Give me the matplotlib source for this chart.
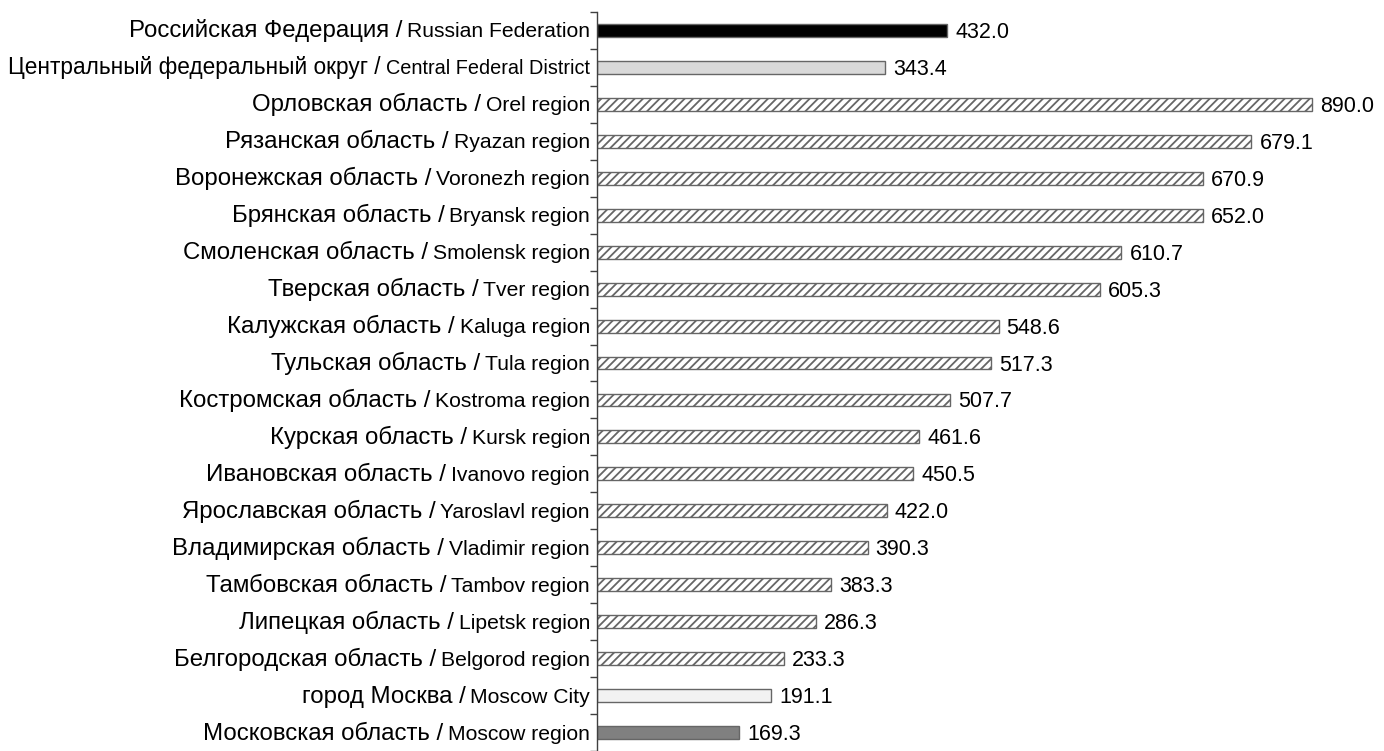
import matplotlib
matplotlib.use('Agg')
from matplotlib import pyplot as plt

names_ru = ['Российская Федерация', 'Центральный федеральный округ', 'Орловская область',
            'Рязанская область', 'Воронежская область', 'Брянская область',
            'Смоленская область', 'Тверская область', 'Калужская область',
            'Тульская область', 'Костромская область', 'Курская область',
            'Ивановская область', 'Ярославская область', 'Владимирская область',
            'Тамбовская область', 'Липецкая область', 'Белгородская область',
            'город Москва', 'Московская область']
names_en = ['Russian Federation', 'Central Federal District', 'Orel region',
            'Ryazan region', 'Voronezh region', 'Bryansk region',
            'Smolensk region', 'Tver region', 'Kaluga region',
            'Tula region', 'Kostroma region', 'Kursk region',
            'Ivanovo region', 'Yaroslavl region', 'Vladimir region',
            'Tambov region', 'Lipetsk region', 'Belgorod region',
            'Moscow City', 'Moscow region']
# printed values
values = [432.0, 343.4, 890.0, 679.1, 670.9, 652.0, 610.7, 605.3, 548.6, 517.3,
          507.7, 461.6, 450.5, 422.0, 390.3, 383.3, 286.3, 233.3, 191.1, 169.3]
# bar lengths as drawn in the source (they don't follow the printed values exactly)
bar_lengths = [436, 359, 890, 815, 754, 754, 653, 626, 500, 491,
               440, 401, 394, 361, 337, 292, 273, 233, 217, 177]

white_hatch = ('white', '////')
styles = [('black', ''), ('#d9d9d9', '')] + [white_hatch] * 16 + [('#f2f2f2', ''), ('#808080', '')]

plt.rcParams['font.family'] = ['Liberation Sans', 'DejaVu Sans']
plt.rcParams['hatch.color'] = '#222222'
plt.rcParams['hatch.linewidth'] = 1.3

fig = plt.figure(figsize=(13.84, 7.51), dpi=100)
ax = fig.add_axes([597 / 1384, 0, 787 / 1384, 739 / 751])

ypos = list(range(len(values)))
for y, length, (fc, hatch) in zip(ypos, bar_lengths, styles):
    ax.barh(y, length, height=0.35, color=fc, hatch=hatch,
            edgecolor='#666666', linewidth=1.0)

for y, length, v in zip(ypos, bar_lengths, values):
    ax.annotate(f'{v:.1f}', xy=(length, y), xytext=(8, -2), textcoords='offset pixels',
                ha='left', va='center', fontsize=15.5)

ax.set_xlim(0, 980)
ax.set_ylim(19.31, -0.5)
ax.set_xticks([])
ax.set_yticks(ypos)
ax.set_yticklabels([])
ax.tick_params(axis='y', which='major', length=0)
ax.set_yticks([i - 0.5 for i in range(len(values) + 1)], minor=True)
ax.tick_params(axis='y', which='minor', length=5, width=1, color='#404040', direction='out')
for side in ['top', 'right', 'bottom']:
    ax.spines[side].set_visible(False)
ax.spines['left'].set_color('#404040')
ax.spines['left'].set_linewidth(1)

# two-size category labels: english part smaller
fig.canvas.draw()
renderer = fig.canvas.get_renderer()
for y, ru, en in zip(ypos, names_ru, names_en):
    scale = 1.0
    while True:
        t = ax.annotate(en, xy=(0, y), xytext=(-7, -7), textcoords='offset pixels',
                        ha='right', va='baseline', fontsize=15.2 * scale)
        w = t.get_window_extent(renderer).width
        r = ax.annotate(ru + ' /', xy=(0, y), xytext=(-7 - w - 5, -7), textcoords='offset pixels',
                        ha='right', va='baseline', fontsize=17.3 * scale)
        if r.get_window_extent(renderer).x0 >= 6 or scale < 0.8:
            break
        t.remove()
        r.remove()
        scale -= 0.02

fig.savefig('out.png', dpi=100)
